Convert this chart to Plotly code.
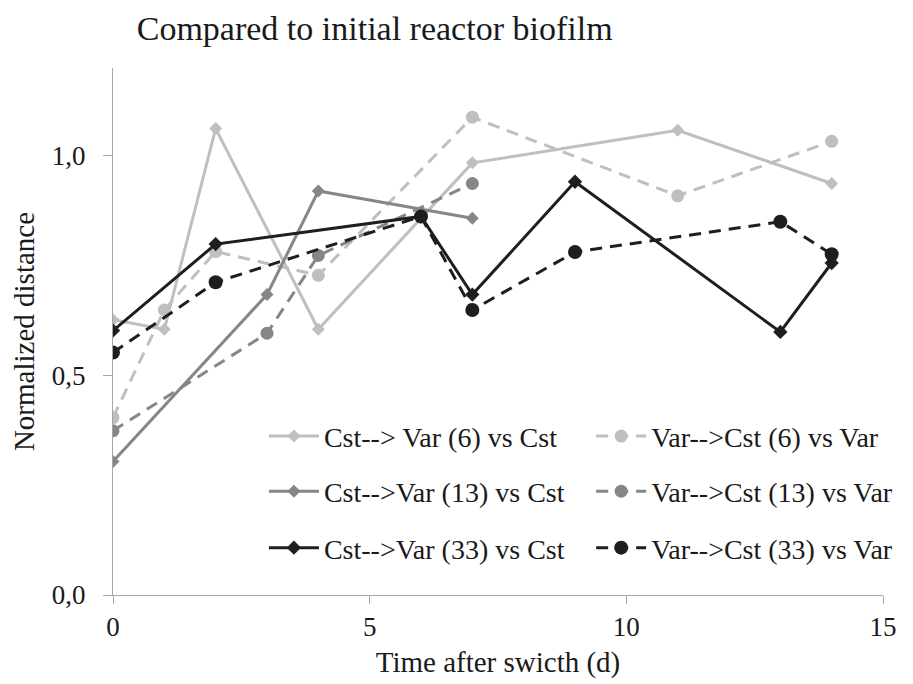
import plotly.graph_objects as go

# Données
x_cst6 = [0, 1, 2, 4, 7, 11, 14]
y_cst6 = [0.627, 0.605, 1.062, 0.605, 0.984, 1.058, 0.937]

x_var6 = [0, 1, 2, 4, 7, 11, 14]
y_var6 = [0.404, 0.649, 0.782, 0.728, 1.088, 0.909, 1.033]

x_cst13 = [0, 3, 4, 7]
y_cst13 = [0.304, 0.684, 0.920, 0.858]

x_var13 = [0, 3, 4, 7]
y_var13 = [0.374, 0.596, 0.773, 0.937]

x_cst33 = [0, 2, 6, 7, 9, 13, 14]
y_cst33 = [0.602, 0.799, 0.862, 0.684, 0.941, 0.599, 0.756]

x_var33 = [0, 2, 6, 7, 9, 13, 14]
y_var33 = [0.552, 0.712, 0.862, 0.649, 0.781, 0.850, 0.776]

names = [
    "Cst--> Var (6) vs Cst", "Var-->Cst (6) vs Var",
    "Cst-->Var (13) vs Cst", "Var-->Cst (13) vs Var",
    "Cst-->Var (33) vs Cst", "Var-->Cst (33) vs Var",
]

LIGHT = "#BFBFBF"
MID = "#868686"
DARK = "#1E1E1E"
TXT = "#1A1A1A"
FONT = "Liberation Serif"

series = [
    (x_cst6, y_cst6, LIGHT, "solid", "diamond", 10),
    (x_var6, y_var6, LIGHT, "12px,8px", "circle", 13),
    (x_cst13, y_cst13, MID, "solid", "diamond", 10),
    (x_var13, y_var13, MID, "12px,8px", "circle", 13),
    (x_cst33, y_cst33, DARK, "solid", "diamond", 11),
    (x_var33, y_var33, DARK, "12px,8px", "circle", 14),
]

# une légende par entrée : 2 colonnes x 3 lignes
leg_ids = ["legend", "legend2", "legend3", "legend4", "legend5", "legend6"]
col_x = [0.196, 0.621]
row_y = [0.301, 0.1965, 0.0893]

fig = go.Figure()
for i, ((xs, ys, col, dash, sym, size), name) in enumerate(zip(series, names)):
    fig.add_trace(go.Scatter(
        x=xs, y=ys, name=name, mode="lines+markers",
        line=dict(color=col, width=3, dash=dash),
        marker=dict(color=col, symbol=sym, size=size),
        legend=leg_ids[i], showlegend=True,
    ))

legends = {}
for i, lid in enumerate(leg_ids):
    legends[lid] = dict(
        orientation="h", x=col_x[i % 2], y=row_y[i // 2],
        xanchor="left", yanchor="middle",
        font=dict(family=FONT, size=28, color=TXT),
        bgcolor="rgba(0,0,0,0)", itemwidth=50,
    )

fig.update_layout(
    width=913, height=684,
    showlegend=True,
    paper_bgcolor="white", plot_bgcolor="white",
    margin=dict(l=103, r=38, t=60, b=97),
    separators=", ",
    font=dict(family=FONT, size=28, color=TXT),
    title=dict(text="Compared to initial reactor biofilm",
               font=dict(family=FONT, size=34, color=TXT),
               x=0.141, xanchor="left", y=0.971, yanchor="middle"),
    xaxis=dict(
        range=[0, 15], tickvals=[0, 5, 10, 15], showgrid=False, zeroline=False,
        showline=True, linecolor="#A6A6A6", linewidth=1,
        ticks="outside", ticklen=8, tickcolor="#A6A6A6",
        title=dict(text="Time after swicth (d)", font=dict(size=29), standoff=10),
        tickfont=dict(size=27),
    ),
    yaxis=dict(
        range=[0, 1.2], tickvals=[0, 0.5, 1.0], tickformat=".1f",
        showgrid=False, zeroline=False,
        showline=True, linecolor="#A6A6A6", linewidth=1,
        ticks="outside", ticklen=9, tickcolor="#A6A6A6",
        ticklabelstandoff=12,
        title=dict(text="Normalized distance", font=dict(size=29), standoff=12),
        tickfont=dict(size=27),
    ),
    **legends,
)

fig.write_html("out.html")
